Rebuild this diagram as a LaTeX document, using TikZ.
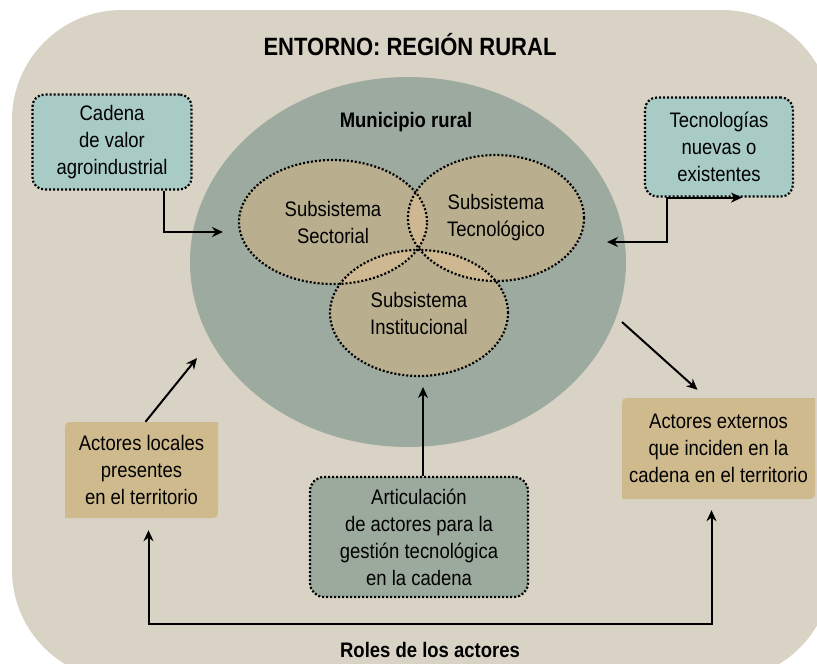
\documentclass[tikz,border=0pt]{standalone}
\usepackage{fontspec}
\setmainfont{Liberation Sans}[FakeStretch=0.88]
\usetikzlibrary{shapes.geometric,arrows.meta,calc}
\definecolor{bgc}{HTML}{D9D3C6}
\definecolor{munc}{HTML}{9DAA9F}
\definecolor{subc}{HTML}{B9AF8F}
\definecolor{ovlc}{HTML}{CDB892}
\definecolor{tealc}{HTML}{A8CBC5}
\definecolor{tanc}{HTML}{CEBA8D}
\definecolor{artc}{HTML}{9BAA9D}
\newcommand\leafbox[4]{\fill[tanc] (#1,#4) -- (#1,#2+10) .. controls (#1,#2) .. (#1+10,#2) -- (#3,#2) -- (#3,#4-10) .. controls (#3,#4) .. (#3-10,#4) -- cycle;}
\begin{document}
\begin{tikzpicture}[x=1pt,y=-1pt,
 txt/.style={font=\fontsize{21}{27}\selectfont, align=center, text=black},
 btxt/.style={font=\fontsize{21}{27}\selectfont\bfseries, text=black},
 dotb/.style={draw=black, line width=2.2pt, dash pattern=on 2pt off 2pt},
 arr/.style={line width=2pt, -{Stealth[length=11pt,width=10pt]}},
 arrb/.style={line width=2pt, {Stealth[length=11pt,width=10pt]}-{Stealth[length=11pt,width=10pt]}},
 ]
\useasboundingbox (0,0) rectangle (817,664);
\clip (0,0) rectangle (817,664);
\fill[bgc, rounded corners=110pt] (12,10) rectangle (832,680);

\node[font=\fontsize{25}{30}\selectfont\bfseries] (title) at (410,45) {ENTORNO: REGIÓN RURAL};

% municipio
\node[ellipse, fill=munc, minimum width=436pt, minimum height=370pt, inner sep=0pt] (mun) at (408,262) {};
\node[btxt] (munl) at (406,122) {Municipio rural};

% subsystem fills
\fill[subc] (333,222) ellipse [x radius=94, y radius=62];
\fill[subc] (496,218) ellipse [x radius=88, y radius=63];
\fill[subc] (419,313) ellipse [x radius=89, y radius=63];
\begin{scope}
\clip (333,222) ellipse [x radius=94, y radius=62];
\fill[ovlc] (496,218) ellipse [x radius=88, y radius=63];
\fill[ovlc] (419,313) ellipse [x radius=89, y radius=63];
\end{scope}
\begin{scope}
\clip (496,218) ellipse [x radius=88, y radius=63];
\fill[ovlc] (419,313) ellipse [x radius=89, y radius=63];
\end{scope}
\node[ellipse, dotb, minimum width=188pt, minimum height=124pt, inner sep=0pt, txt] (sec) at (333,222) {Subsistema\\Sectorial};
\node[ellipse, dotb, minimum width=176pt, minimum height=126pt, inner sep=0pt, txt] (tecn) at (496,218) {Subsistema\\Tecnológico};
\node[ellipse, dotb, minimum width=178pt, minimum height=126pt, inner sep=0pt, txt] (inst) at (419,313) {Subsistema\\Institucional};

% boxes
\node[txt, fill=tealc, dotb, rounded corners=12pt, minimum width=159pt, minimum height=95pt, inner sep=0pt] (cad) at (112,142) {Cadena\\de valor\\agroindustrial};
\node[txt, fill=tealc, dotb, rounded corners=12pt, minimum width=148pt, minimum height=99pt, inner sep=0pt] (tec) at (719,147) {Tecnologías\\nuevas o\\existentes};
\node[txt, fill=artc, dotb, rounded corners=14pt, minimum width=218pt, minimum height=120pt, inner sep=0pt] (art) at (419,537) {Articulación\\de actores para la\\gestión tecnológica\\en la cadena};

\leafbox{65}{422}{218}{518}
\node[txt, minimum width=153pt, minimum height=96pt, inner sep=0pt] (loc) at (141.5,470) {Actores locales\\presentes\\en el territorio};
\leafbox{622}{398}{815}{499}
\node[txt, minimum width=193pt, minimum height=101pt, inner sep=0pt] (ext) at (718.5,448.5) {Actores externos\\que inciden en la\\cadena en el territorio};

\node[btxt] (roles) at (430,650) {Roles de los actores};

% connectors
\coordinate (cadTip) at (223,232);
\draw[arr] ([xshift=52pt]cad.south) |- (cadTip);
\coordinate (tecTip) at (607,242);
\draw[arrb] (tecTip) -| ([xshift=-52pt]tec.south) -- ([xshift=23pt]tec.south);
\coordinate (locTip) at (197,358);
\draw[arr] ([xshift=4pt]loc.north) -- (locTip);
\coordinate (extFrom) at (622,322);
\draw[arr] (extFrom) -- ([xshift=-21pt,yshift=8pt]ext.north);
\coordinate (instTip) at (423,387);
\draw[arr] ([xshift=4pt]art.north) -- (instTip);
\coordinate (rolesY) at (0,624);
\coordinate (locBot) at ([xshift=7pt,yshift=-12pt]loc.south);
\coordinate (extBot) at ([xshift=-7pt,yshift=-11pt]ext.south);
\draw[arrb] (locBot) -- (locBot |- rolesY) -| (extBot);
\end{tikzpicture}
\end{document}
